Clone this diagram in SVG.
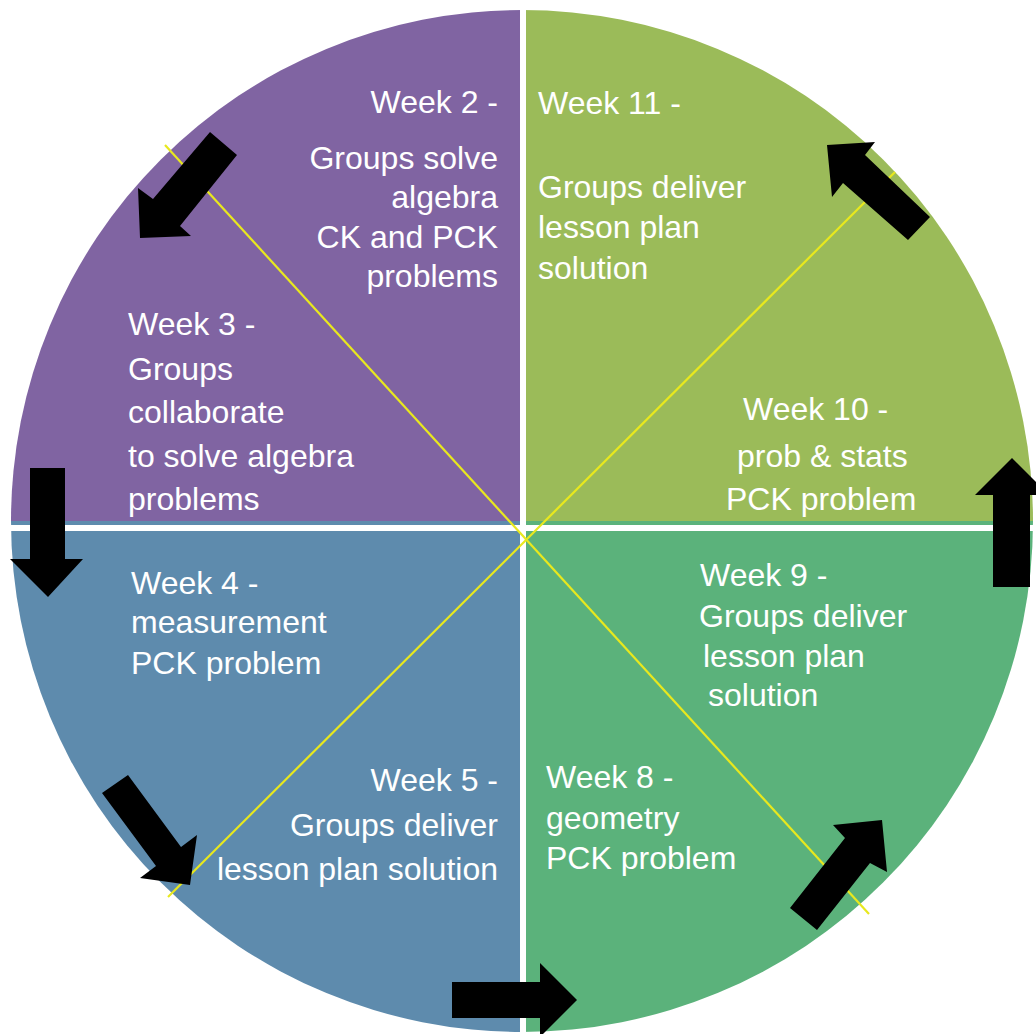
<svg xmlns="http://www.w3.org/2000/svg" width="1036" height="1034" viewBox="0 0 1036 1034">
<style>
.t{font-family:"Liberation Sans",Arial,sans-serif;font-size:32px;fill:#ffffff}
.e{text-anchor:end}
.arrow{fill:#000000}
.guide{stroke:#E8E81E;stroke-width:2.2;fill:none}
</style>
<rect width="1036" height="1034" fill="#ffffff"/>
<g id="pie">
<path d="M522,521 L522,10 A511,511 0 0 0 11,521 Z" fill="#8064A2"/>
<path d="M522,521 L522,10 A511,511 0 0 1 1033,521 Z" fill="#9BBB59"/>
<path d="M522,521 L11,521 A511,511 0 0 0 522,1032 Z" fill="#5E8BAD"/>
<path d="M522,521 L1033,521 A511,511 0 0 1 522,1032 Z" fill="#5BB27B"/>
<rect x="11" y="525" width="1024" height="6" fill="#ffffff"/>
<rect x="520" y="8" width="6" height="1030" fill="#ffffff"/>
</g>
<g id="guides">
<line class="guide" x1="165" y1="145" x2="869" y2="914"/>
<line class="guide" x1="895" y1="172" x2="168" y2="897"/>
</g>
<g id="week2">
<text class="t e" x="498" y="113">Week 2 -</text>
<text class="t e" x="498" y="169">Groups solve</text>
<text class="t e" x="498" y="208">algebra</text>
<text class="t e" x="498" y="248">CK and PCK</text>
<text class="t e" x="498" y="287">problems</text>
</g>
<g id="week11">
<text class="t" x="538" y="114">Week 11 -</text>
<text class="t" x="538" y="198">Groups deliver</text>
<text class="t" x="538" y="238">lesson plan</text>
<text class="t" x="538" y="279">solution</text>
</g>
<g id="week3">
<text class="t" x="128" y="335">Week 3 -</text>
<text class="t" x="128" y="380">Groups</text>
<text class="t" x="128" y="423">collaborate</text>
<text class="t" x="128" y="467">to solve algebra</text>
<text class="t" x="128" y="510">problems</text>
</g>
<g id="week10">
<text class="t" x="743" y="420">Week 10 -</text>
<text class="t" x="737" y="467">prob &amp; stats</text>
<text class="t" x="726" y="510">PCK problem</text>
</g>
<g id="week4">
<text class="t" x="131" y="594">Week 4 -</text>
<text class="t" x="131" y="633">measurement</text>
<text class="t" x="131" y="674">PCK problem</text>
</g>
<g id="week9">
<text class="t" x="700" y="586">Week 9 -</text>
<text class="t" x="699" y="627">Groups deliver</text>
<text class="t" x="703" y="667">lesson plan</text>
<text class="t" x="708" y="706">solution</text>
</g>
<g id="week5">
<text class="t e" x="498" y="791">Week 5 -</text>
<text class="t e" x="498" y="836">Groups deliver</text>
<text class="t e" x="498" y="880">lesson plan solution</text>
</g>
<g id="week8">
<text class="t" x="546" y="788">Week 8 -</text>
<text class="t" x="546" y="829">geometry</text>
<text class="t" x="546" y="869">PCK problem</text>
</g>
<g id="connectors">
<polygon class="arrow" points="210,132 237,155 180,226 191,236 140,238 138,188 153,199"/>
<polygon class="arrow" points="30,468 65,468 65,559 83,559 48,597 10,559 30,559"/>
<polygon class="arrow" points="128,775 181,847 197,835 190,885 140,878 156,866 102,793"/>
<polygon class="arrow" points="452,982 540,982 540,963 577,1000 540,1037 540,1018 452,1018"/>
<polygon class="arrow" points="790,908 845,838 833,825 882,820 887,872 870,863 817,930"/>
<polygon class="arrow" points="993,587 1030,587 1030,495 1049,495 1012,458 975,495 993,495"/>
<polygon class="arrow" points="930,217 865,155 875,142 827,145 832,197 843,183 908,240"/>
</g>
</svg>
